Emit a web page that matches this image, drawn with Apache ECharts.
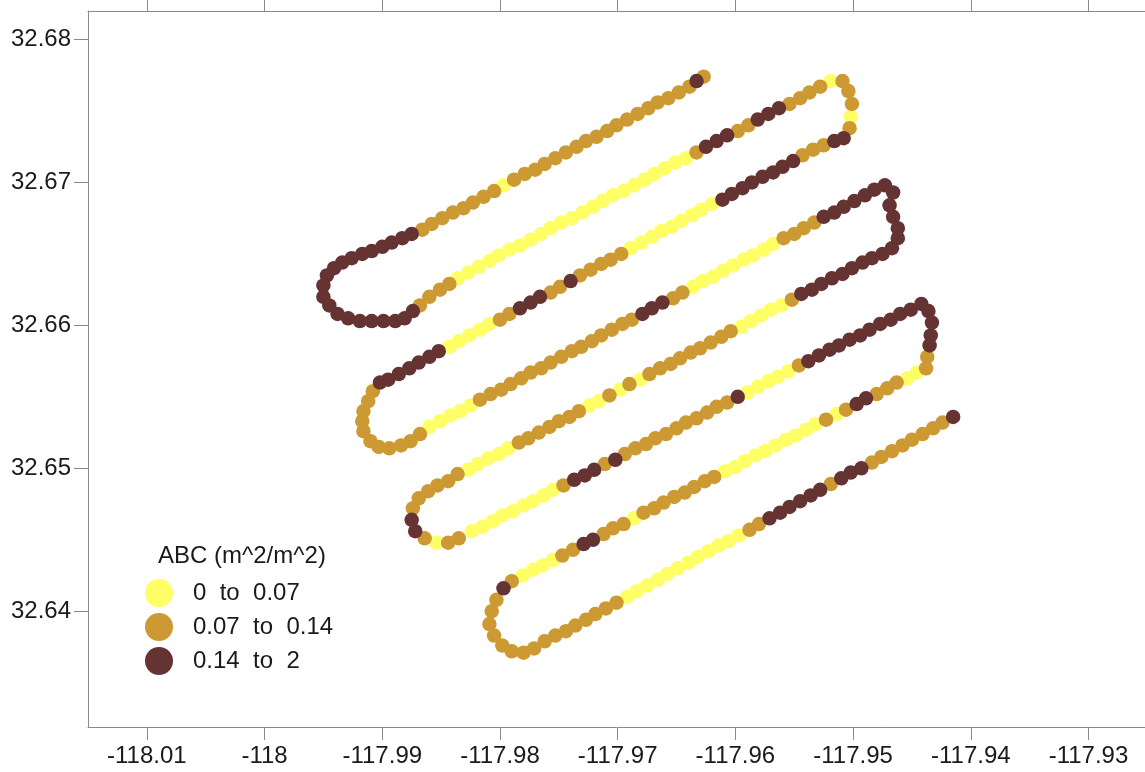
<!DOCTYPE html>
<html><head><meta charset="utf-8">
<script src="https://cdn.jsdelivr.net/npm/echarts@6/dist/echarts.min.js"></script>
<style>html,body{margin:0;padding:0;background:#fff}#chart{width:1145px;height:772px}</style>
</head><body><div id="chart"></div>
<script>
const legendTitle = 'ABC (m^2/m^2)';
const classNames = ['0  to  0.07', '0.07  to  0.14', '0.14  to  2'];
const classColors = ['#FFFF66', '#CC9933', '#663333'];
const xTicks = [-118.01, -118, -117.99, -117.98, -117.97, -117.96, -117.95, -117.94, -117.93];
const yTicks = [32.64, 32.65, 32.66, 32.67, 32.68];

// track points: [lon, lat, class] (class 0 = 0-0.07, 1 = 0.07-0.14, 2 = 0.14-2)
const legA = [
[-117.9627,32.6774,1],[-117.9633,32.6771,2],[-117.9639,32.6767,1],[-117.9648,32.6763,1],[-117.9657,32.6759,1],
[-117.9666,32.6756,1],[-117.9674,32.6752,1],[-117.9683,32.6748,1],[-117.9692,32.6744,1],[-117.9701,32.6740,1],
[-117.9709,32.6736,1],[-117.9718,32.6732,1],[-117.9727,32.6729,1],[-117.9735,32.6725,1],[-117.9744,32.6721,1],
[-117.9753,32.6717,1],[-117.9762,32.6713,1],[-117.9770,32.6709,1],[-117.9779,32.6706,1],[-117.9788,32.6702,1],
[-117.9797,32.6698,0],[-117.9805,32.6694,1],[-117.9814,32.6690,1],[-117.9823,32.6686,1],[-117.9831,32.6682,1],
[-117.9840,32.6679,1],[-117.9849,32.6675,1],[-117.9858,32.6671,1],[-117.9866,32.6667,1],
[-117.9875,32.6664,2],[-117.9883,32.6661,2],[-117.9892,32.6658,2],[-117.9900,32.6655,2],[-117.9909,32.6652,2],
[-117.9917,32.6650,2],[-117.9926,32.6647,2],[-117.9934,32.6644,2],[-117.9941,32.6640,2],[-117.9947,32.6635,2],
[-117.9950,32.6628,2],[-117.9950,32.6620,2],[-117.9945,32.6614,2],[-117.9938,32.6608,2],[-117.9929,32.6605,2],
[-117.9919,32.6603,2],[-117.9909,32.6603,2],[-117.9899,32.6603,2],[-117.9889,32.6603,2],[-117.9881,32.6605,2],
[-117.9874,32.6610,2]
];
const legB = [
[-117.9868,32.6614,1],[-117.9860,32.6620,1],[-117.9851,32.6625,1],[-117.9843,32.6629,1],
[-117.9836,32.6633,0],[-117.9827,32.6637,0],[-117.9818,32.6641,0],[-117.9809,32.6645,0],[-117.9801,32.6649,0],
[-117.9792,32.6653,0],[-117.9783,32.6656,0],[-117.9774,32.6660,0],[-117.9765,32.6664,0],[-117.9757,32.6668,0],
[-117.9748,32.6672,0],[-117.9739,32.6675,0],[-117.9730,32.6679,0],[-117.9721,32.6683,0],[-117.9713,32.6687,0],
[-117.9704,32.6691,0],[-117.9695,32.6694,0],[-117.9686,32.6698,0],[-117.9677,32.6702,0],[-117.9669,32.6706,0],
[-117.9660,32.6710,0],[-117.9651,32.6714,0],[-117.9642,32.6717,0],[-117.9633,32.6721,1],[-117.9625,32.6725,2],
[-117.9616,32.6729,2],[-117.9607,32.6733,2],[-117.9598,32.6736,1],[-117.9589,32.6740,1],[-117.9581,32.6744,2],
[-117.9572,32.6748,2],[-117.9563,32.6752,2],[-117.9554,32.6755,1],[-117.9545,32.6759,1],[-117.9537,32.6763,1],
[-117.9528,32.6767,1],[-117.9519,32.6771,0],
[-117.9509,32.6771,1],[-117.9504,32.6764,1],[-117.9501,32.6755,1],[-117.9502,32.6746,0],[-117.9503,32.6738,1],
[-117.9508,32.6731,2],[-117.9516,32.6729,2]
];
const legC = [
[-117.9525,32.6726,1],[-117.9534,32.6723,1],[-117.9543,32.6719,1],[-117.9551,32.6715,2],[-117.9560,32.6711,2],
[-117.9568,32.6707,2],[-117.9577,32.6704,2],[-117.9586,32.6700,2],[-117.9594,32.6696,2],[-117.9603,32.6692,2],
[-117.9611,32.6688,2],[-117.9620,32.6685,0],[-117.9629,32.6681,0],[-117.9637,32.6677,0],[-117.9646,32.6673,0],
[-117.9654,32.6669,0],[-117.9663,32.6666,0],[-117.9671,32.6662,0],[-117.9680,32.6658,0],[-117.9689,32.6654,0],
[-117.9697,32.6650,1],[-117.9706,32.6646,1],[-117.9714,32.6643,1],[-117.9723,32.6639,1],[-117.9732,32.6635,1],
[-117.9740,32.6631,2],[-117.9749,32.6627,1],[-117.9757,32.6623,1],[-117.9766,32.6620,2],[-117.9774,32.6616,2],
[-117.9783,32.6612,2],[-117.9792,32.6608,1],[-117.9800,32.6604,1],[-117.9809,32.6601,0],[-117.9817,32.6597,0],
[-117.9826,32.6593,0],[-117.9835,32.6589,0],[-117.9843,32.6585,0],[-117.9852,32.6582,2],[-117.9860,32.6578,2],
[-117.9869,32.6574,2],[-117.9877,32.6570,2],[-117.9886,32.6566,2],[-117.9895,32.6562,2],
[-117.9902,32.6560,2],[-117.9908,32.6554,1],[-117.9912,32.6547,1],[-117.9916,32.6540,1],[-117.9917,32.6533,1],
[-117.9916,32.6526,1],[-117.9910,32.6519,1],[-117.9903,32.6515,1],[-117.9894,32.6514,1],[-117.9884,32.6516,1],
[-117.9876,32.6519,1],[-117.9868,32.6524,1]
];
const legD = [
[-117.9860,32.6529,0],[-117.9851,32.6533,0],[-117.9842,32.6537,0],[-117.9834,32.6540,0],[-117.9825,32.6544,0],
[-117.9817,32.6548,1],[-117.9808,32.6552,1],[-117.9799,32.6555,1],[-117.9791,32.6559,1],[-117.9782,32.6563,1],
[-117.9774,32.6567,1],[-117.9765,32.6570,1],[-117.9757,32.6574,1],[-117.9748,32.6578,1],[-117.9739,32.6582,1],
[-117.9731,32.6585,1],[-117.9722,32.6589,1],[-117.9714,32.6593,1],[-117.9705,32.6597,1],[-117.9696,32.6601,1],
[-117.9688,32.6604,1],[-117.9679,32.6608,2],[-117.9671,32.6612,2],[-117.9662,32.6616,2],[-117.9653,32.6619,1],
[-117.9645,32.6623,1],[-117.9636,32.6627,0],[-117.9628,32.6631,0],[-117.9619,32.6634,0],[-117.9611,32.6638,0],
[-117.9602,32.6642,0],[-117.9593,32.6646,0],[-117.9585,32.6649,0],[-117.9576,32.6653,0],[-117.9568,32.6657,0],
[-117.9559,32.6661,1],[-117.9550,32.6664,1],[-117.9542,32.6668,1],[-117.9533,32.6672,1],[-117.9525,32.6676,2],
[-117.9516,32.6679,2],[-117.9508,32.6683,2],[-117.9499,32.6687,2],[-117.9490,32.6691,2],[-117.9482,32.6695,2],
[-117.9473,32.6698,2],
[-117.9466,32.6693,2],[-117.9469,32.6684,2],[-117.9466,32.6676,2],[-117.9462,32.6668,2],[-117.9462,32.6661,2],
[-117.9467,32.6654,2],[-117.9475,32.6650,2],[-117.9484,32.6647,2]
];
const legE = [
[-117.9492,32.6644,2],[-117.9501,32.6640,2],[-117.9509,32.6636,2],[-117.9518,32.6633,2],[-117.9527,32.6629,2],
[-117.9535,32.6625,2],[-117.9544,32.6622,2],[-117.9552,32.6618,1],[-117.9561,32.6614,0],[-117.9570,32.6611,0],
[-117.9578,32.6607,0],[-117.9587,32.6603,0],[-117.9595,32.6599,0],[-117.9604,32.6596,1],[-117.9612,32.6592,1],
[-117.9621,32.6588,1],[-117.9630,32.6584,1],[-117.9638,32.6581,1],[-117.9647,32.6577,1],[-117.9655,32.6573,1],
[-117.9664,32.6570,1],[-117.9673,32.6566,1],[-117.9681,32.6562,0],[-117.9690,32.6559,1],[-117.9698,32.6555,0],
[-117.9707,32.6551,1],[-117.9716,32.6547,0],[-117.9724,32.6544,0],[-117.9733,32.6540,1],[-117.9741,32.6536,1],
[-117.9750,32.6533,1],[-117.9758,32.6529,1],[-117.9767,32.6525,1],[-117.9776,32.6521,1],[-117.9784,32.6518,1],
[-117.9793,32.6514,0],[-117.9801,32.6510,0],[-117.9810,32.6507,0],[-117.9819,32.6503,0],[-117.9827,32.6499,0],
[-117.9836,32.6496,1],
[-117.9844,32.6491,1],[-117.9853,32.6488,1],[-117.9861,32.6484,1],[-117.9869,32.6479,1],[-117.9874,32.6472,1],
[-117.9875,32.6464,2],[-117.9872,32.6456,2],[-117.9864,32.6451,1],[-117.9854,32.6448,0],[-117.9844,32.6448,1],
[-117.9835,32.6451,1]
];
const legF = [
[-117.9824,32.6456,0],[-117.9815,32.6459,0],[-117.9806,32.6463,0],[-117.9798,32.6467,0],[-117.9789,32.6470,0],
[-117.9780,32.6474,0],[-117.9772,32.6477,0],[-117.9763,32.6481,0],[-117.9755,32.6485,0],[-117.9746,32.6488,1],
[-117.9737,32.6492,2],[-117.9728,32.6495,2],[-117.9720,32.6499,2],[-117.9711,32.6503,1],[-117.9702,32.6506,2],
[-117.9694,32.6510,1],[-117.9685,32.6514,1],[-117.9676,32.6517,1],[-117.9668,32.6521,1],[-117.9659,32.6524,1],
[-117.9650,32.6528,1],[-117.9642,32.6532,1],[-117.9633,32.6535,1],[-117.9624,32.6539,1],[-117.9616,32.6543,1],
[-117.9607,32.6546,1],[-117.9598,32.6550,2],[-117.9590,32.6553,0],[-117.9581,32.6557,0],[-117.9572,32.6561,0],
[-117.9564,32.6564,0],[-117.9555,32.6568,0],[-117.9546,32.6572,1],[-117.9538,32.6575,2],[-117.9529,32.6579,2],
[-117.9520,32.6583,2],[-117.9512,32.6586,2],[-117.9503,32.6590,2],[-117.9494,32.6593,2],[-117.9486,32.6597,2],
[-117.9477,32.6601,2],[-117.9468,32.6604,2],[-117.9460,32.6608,2],[-117.9451,32.6611,2],[-117.9442,32.6615,2],
[-117.9436,32.6610,2],[-117.9433,32.6602,2],[-117.9434,32.6593,2],[-117.9435,32.6586,2],[-117.9437,32.6578,1],
[-117.9438,32.6570,1]
];
const legG = [
[-117.9446,32.6567,0],[-117.9454,32.6563,0],[-117.9463,32.6560,1],[-117.9471,32.6556,1],[-117.9480,32.6552,1],
[-117.9489,32.6549,2],[-117.9497,32.6545,2],[-117.9506,32.6541,1],[-117.9514,32.6538,0],[-117.9523,32.6534,1],
[-117.9532,32.6531,0],[-117.9540,32.6527,0],[-117.9549,32.6523,0],[-117.9557,32.6520,0],[-117.9566,32.6516,0],
[-117.9575,32.6512,0],[-117.9583,32.6509,0],[-117.9592,32.6505,0],[-117.9600,32.6501,0],[-117.9609,32.6498,0],
[-117.9618,32.6494,1],[-117.9626,32.6491,1],[-117.9635,32.6487,1],[-117.9643,32.6483,1],[-117.9652,32.6480,1],
[-117.9661,32.6476,1],[-117.9669,32.6472,1],[-117.9678,32.6469,1],[-117.9686,32.6465,0],[-117.9695,32.6461,1],
[-117.9704,32.6458,1],[-117.9712,32.6454,1],[-117.9721,32.6450,2],[-117.9729,32.6447,2],[-117.9738,32.6443,1],
[-117.9747,32.6439,1],[-117.9755,32.6436,0],[-117.9764,32.6432,0],[-117.9772,32.6429,0],[-117.9781,32.6425,0],
[-117.9790,32.6421,1],
[-117.9797,32.6416,2],[-117.9803,32.6408,1],[-117.9807,32.6400,1],[-117.9809,32.6391,1],[-117.9805,32.6383,1],
[-117.9798,32.6376,1],[-117.9790,32.6372,1],[-117.9780,32.6371,1],[-117.9771,32.6374,1]
];
const legH = [
[-117.9762,32.6379,1],[-117.9753,32.6383,1],[-117.9744,32.6386,1],[-117.9736,32.6390,1],[-117.9727,32.6394,1],
[-117.9719,32.6398,1],[-117.9710,32.6402,1],[-117.9701,32.6406,1],[-117.9692,32.6410,0],[-117.9684,32.6414,0],
[-117.9675,32.6418,0],[-117.9666,32.6422,0],[-117.9658,32.6426,0],[-117.9649,32.6430,0],[-117.9640,32.6434,0],
[-117.9632,32.6438,0],[-117.9623,32.6442,0],[-117.9614,32.6446,0],[-117.9606,32.6449,0],[-117.9597,32.6453,0],
[-117.9588,32.6457,1],[-117.9580,32.6461,1],[-117.9571,32.6465,2],[-117.9562,32.6469,2],[-117.9554,32.6473,2],
[-117.9545,32.6477,2],[-117.9536,32.6481,2],[-117.9528,32.6485,2],[-117.9519,32.6489,1],[-117.9510,32.6493,2],
[-117.9502,32.6497,2],[-117.9493,32.6500,2],[-117.9484,32.6504,1],[-117.9476,32.6508,1],[-117.9467,32.6512,1],
[-117.9458,32.6516,1],[-117.9450,32.6520,1],[-117.9441,32.6524,1],[-117.9432,32.6528,1],[-117.9424,32.6532,1],
[-117.9415,32.6536,2]
];

const legs = [legA, legB, legC, legD, legE, legF, legG, legH];
const seriesData = [[], [], []];
legs.forEach(function (leg) { leg.forEach(function (p) { seriesData[p[2]].push([p[0], p[1]]); }); });

const FONT = "'Liberation Sans', Arial, sans-serif";
const axisGray = '#8a8a8a';
const X_MIN = -118.0150, X_MAX = -117.9252, Y_MIN = 32.6319, Y_MAX = 32.6820;

const chart = echarts.init(document.getElementById('chart'), null, { renderer: 'canvas' });
chart.setOption({
  animation: false,
  backgroundColor: '#ffffff',
  textStyle: { fontFamily: FONT },
  grid: { left: 88, right: 0, top: 11, bottom: 45, containLabel: false },
  title: {
    text: legendTitle, left: 153, top: 539, padding: 5,
    textStyle: { fontSize: 24, fontWeight: 'normal', color: '#1a1a1a', fontFamily: FONT }
  },
  legend: {
    orient: 'vertical', left: 140, top: 574, padding: 5,
    itemWidth: 28, itemHeight: 28, itemGap: 6, icon: 'circle',
    data: classNames,
    textStyle: { fontSize: 24, color: '#1a1a1a', fontFamily: FONT, padding: [0, 0, 0, 15] }
  },
  xAxis: [{
    type: 'value', position: 'bottom', min: X_MIN, max: X_MAX,
    axisLine: { show: true, onZero: false, lineStyle: { color: axisGray, width: 1 } },
    axisTick: { show: true, inside: false, length: 13, customValues: xTicks, lineStyle: { color: axisGray } },
    axisLabel: { show: true, customValues: xTicks, margin: 17, fontSize: 24, color: '#1a1a1a', fontFamily: FONT,
      formatter: function (v) { return String(Math.round(v * 100) / 100); } },
    splitLine: { show: false }
  }, {
    type: 'value', position: 'top', min: X_MIN, max: X_MAX,
    axisLine: { show: true, onZero: false, lineStyle: { color: axisGray, width: 1 } },
    axisTick: { show: true, inside: false, length: 11, customValues: xTicks, lineStyle: { color: axisGray } },
    axisLabel: { show: false },
    splitLine: { show: false }
  }],
  yAxis: [{
    type: 'value', position: 'left', min: Y_MIN, max: Y_MAX,
    axisLine: { show: true, onZero: false, lineStyle: { color: axisGray, width: 1 } },
    axisTick: { show: true, inside: false, length: 14, customValues: yTicks, lineStyle: { color: axisGray } },
    axisLabel: { show: true, customValues: yTicks, margin: 17, fontSize: 24, color: '#1a1a1a', fontFamily: FONT,
      formatter: function (v) { return v.toFixed(2); } },
    splitLine: { show: false }
  }],
  series: classNames.map(function (name, k) {
    return {
      name: name, type: 'scatter', xAxisIndex: 0, yAxisIndex: 0,
      symbol: 'circle', symbolSize: 14.5,
      itemStyle: { color: classColors[k], opacity: 1 },
      emphasis: { disabled: true },
      data: seriesData[k]
    };
  })
});
</script>
</body></html>
